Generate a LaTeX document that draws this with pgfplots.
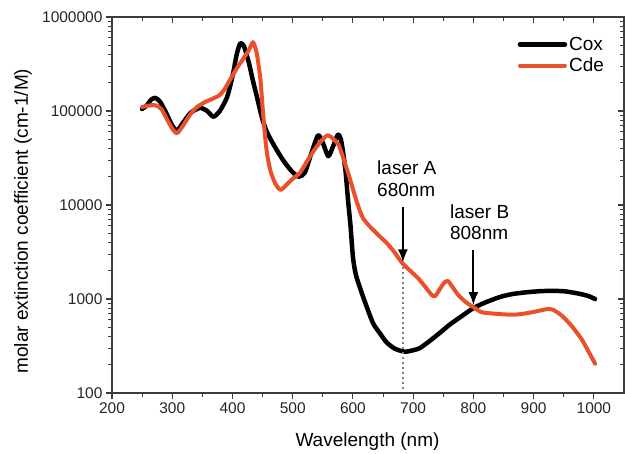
\documentclass[border=0pt]{standalone}
\usepackage{fontspec}
\setmainfont{Liberation Sans}
\usepackage{pgfplots}
\pgfplotsset{compat=1.18}
\usetikzlibrary{arrows.meta}
\definecolor{cde}{RGB}{235,80,45}
\definecolor{axc}{RGB}{60,60,60}

\pgfplotsset{
  mycommonaxis/.style={
    width=512bp, height=376bp, scale only axis,
    xmin=200, xmax=1050, ymin=100, ymax=1000000,
    axis line style={axc, line width=1.1bp},
    every tick/.style={axc, line width=1.1bp},
    major tick length=6bp, minor tick length=4bp,
    xtick={200,300,400,500,600,700,800,900,1000},
    minor x tick num=1,
    ytick={100,1000,10000,100000,1000000},
  }
}

\pgfplotstableread{
x y
250 105000
258 115000
265 132000
272 138000
280 125000
290 95000
300 70000
308 62000
318 75000
330 95000
346 108000
358 100000
368 87000
378 98000
391 140000
401 250000
407 400000
413 525000
419 490000
427 330000
434 210000
441 138000
449 85000
457 60000
470 42000
484 30000
498 23000
510 20000
520 22000
530 34000
542 55000
550 46000
559 33000
567 42000
575 56000
580 50000
584 35000
588 22000
592 11000
596 6000
600 2800
605 1800
617 1050
633 560
645 430
656 345
670 295
686 275
700 285
711 300
728 360
744 435
760 530
778 640
800 800
820 920
844 1050
865 1130
889 1180
910 1210
927 1220
950 1210
972 1150
990 1080
1002 1000
}\cox

\pgfplotstableread{
x y
250 110000
260 114000
272 115000
282 105000
292 80000
300 65000
308 58000
318 70000
330 92000
341 110000
355 125000
367 135000
379 148000
388 175000
396 215000
408 290000
418 360000
427 440000
434 540000
440 420000
446 230000
450 110000
454 55000
458 33000
464 22000
472 16500
480 14500
490 16500
500 19000
512 22000
525 30000
540 42000
557 55000
568 50000
576 44000
583 33000
590 24000
595 19000
601 14000
607 10500
612 8500
617 7200
625 6200
634 5400
645 4600
656 3950
668 3200
681 2450
695 2000
708 1670
720 1350
731 1100
737 1080
745 1300
752 1500
758 1550
765 1350
775 1100
788 920
800 820
812 730
822 710
845 690
866 680
885 700
905 740
922 780
932 770
945 680
955 590
965 500
980 370
992 270
1002 205
}\cde

\begin{document}
\begin{tikzpicture}
\path[use as bounding box] (-112bp,-61bp) rectangle (513bp,393bp);
\begin{semilogyaxis}[mycommonaxis, at={(0,0)}, anchor=south west,
  xtick pos=bottom, ytick pos=left, tick align=outside,
  xticklabels={200,300,400,500,600,700,800,900,1000},
  yticklabels={100,1000,10000,100000,1000000},
  ticklabel style={font=\fontsize{15.5bp}{18bp}\selectfont, text=black!85},
  xlabel={Wavelength (nm)},
  ylabel={molar extinction coefficient (cm-1/M)},
  label style={font=\fontsize{19bp}{22bp}\selectfont},
  xlabel style={at={(axis description cs:0.499,-0.1303)}, anchor=center},
  ylabel style={at={(axis description cs:-0.1738,0.457)}, anchor=center},
  legend style={draw=none, fill=none, at={(axis description cs:0.792,0.952)}, anchor=north west,
    font=\fontsize{19bp}{22bp}\selectfont, inner sep=0pt, row sep=2bp},
  legend cell align=left,
  legend image code/.code={\draw[#1] (0bp,0bp) -- (45bp,0bp);},
]
\addplot[black, line width=4.5bp, smooth, tension=0.4, line join=round, line cap=round] table {\cox};
\addlegendentry{Cox}
\addplot[cde, line width=4bp, smooth, tension=0.4, line join=round, line cap=round] table {\cde};
\addlegendentry{Cde}

\draw[gray, line width=1.5bp, dash pattern=on 1.5bp off 3.5bp] (axis cs:683,2450) -- (axis cs:683,100);
\draw[-{Latex[length=13bp,width=10bp]}, line width=2bp] (axis cs:683,9600) -- (axis cs:683,2450);
\draw[-{Latex[length=13bp,width=10bp]}, line width=2bp] (axis cs:800,3300) -- (axis cs:800,860);
\node[anchor=west, inner sep=0pt, font=\fontsize{19bp}{22bp}\selectfont] at (axis cs:640,25000) {laser A};
\node[anchor=west, inner sep=0pt, font=\fontsize{19bp}{22bp}\selectfont] at (axis cs:640,14500) {680nm};
\node[anchor=west, inner sep=0pt, font=\fontsize{19bp}{22bp}\selectfont] at (axis cs:761,8500) {laser B};
\node[anchor=west, inner sep=0pt, font=\fontsize{19bp}{22bp}\selectfont] at (axis cs:761,5000) {808nm};
\end{semilogyaxis}
\begin{semilogyaxis}[mycommonaxis, at={(0,0)}, anchor=south west,
  xtick pos=top, ytick pos=right, tick align=inside,
  xticklabels={}, yticklabels={}]
\end{semilogyaxis}
\end{tikzpicture}
\end{document}
